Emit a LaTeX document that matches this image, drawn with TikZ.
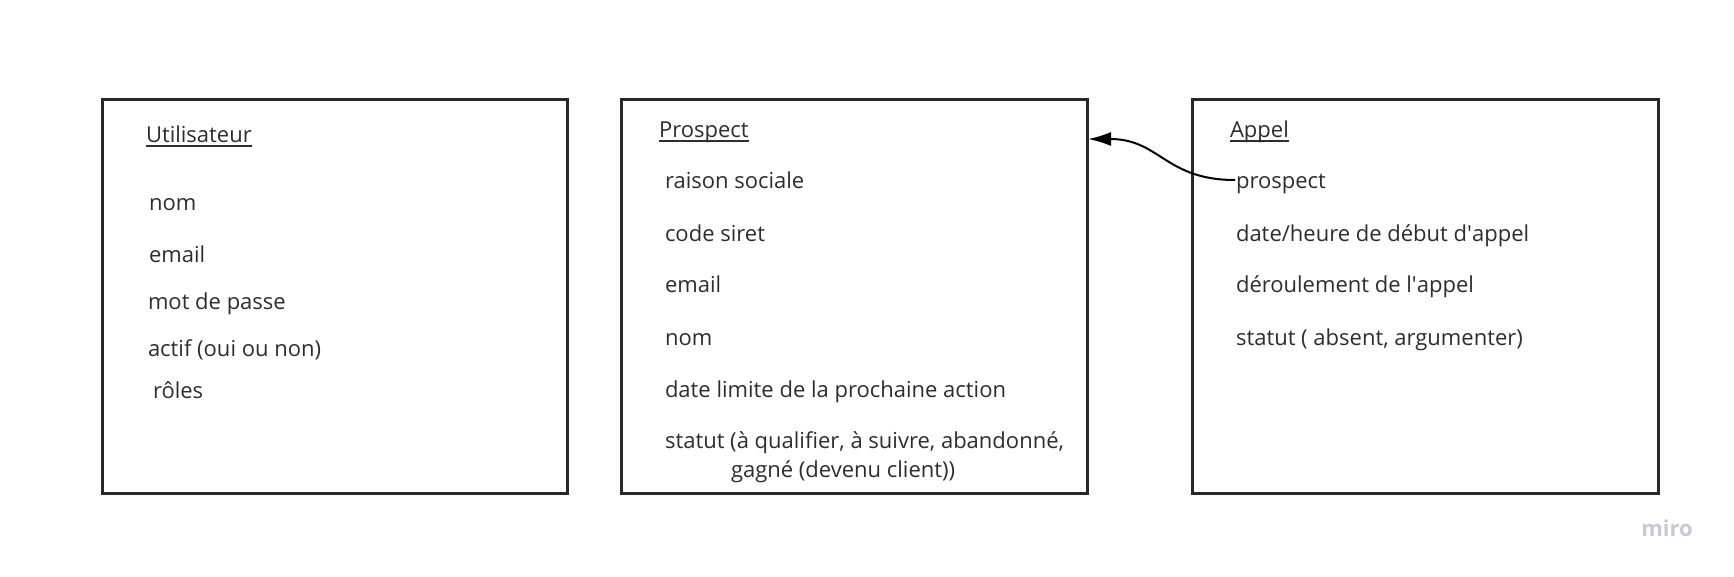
\documentclass[tikz,border=0pt]{standalone}
\usepackage{fontspec}
\setmainfont{Open Sans}
\usetikzlibrary{arrows.meta}
\definecolor{txt}{RGB}{45,45,45}
\definecolor{boxline}{RGB}{40,40,40}
\definecolor{wm}{RGB}{200,200,214}
\tikzset{
  entity/.style={draw=boxline, line width=3pt, inner sep=0pt, outer sep=0pt, anchor=north west, minimum width=465pt, minimum height=394pt},
  field/.style={anchor=base west, inner sep=0pt, outer sep=0pt, text=txt, font=\fontsize{22}{30}\selectfont},
  uline/.style={draw=txt, line width=1.5pt},
  conn/.style={draw=black, line width=2pt, -{Latex[length=23pt,width=14pt]}}
}
\begin{document}
\begin{tikzpicture}[x=1pt,y=-1pt]
\useasboundingbox (0,0) rectangle (1734,576);
% boxes
\node[entity] (user) at (102,99) {};
\node[entity, minimum width=466pt] (prosp) at (621,99) {};
\node[entity, minimum width=466pt] (appel) at (1192,99) {};
% Utilisateur
\node[field] (ut) at (146,142) {Utilisateur};
\draw[uline] ([yshift=-4pt]ut.base west) -- ([yshift=-4pt]ut.base east);
\node[field] (u1) at (149,210) {nom};
\node[field] (u2) at (149,262) {email};
\node[field] (u3) at (148,309) {mot de passe};
\node[field] (u4) at (148,356) {actif (oui ou non)};
\node[field] (u5) at (153,398) {rôles};
% Prospect
\node[field] (pt) at (659,137) {Prospect};
\draw[uline] ([yshift=-4pt]pt.base west) -- ([yshift=-4pt]pt.base east);
\node[field] (p1) at (665,188) {raison sociale};
\node[field] (p2) at (665,241) {code siret};
\node[field] (p3) at (665,292) {email};
\node[field] (p4) at (665,345) {nom};
\node[field] (p5) at (665,397) {date limite de la prochaine action};
\node[field] (p6) at (665,448) {statut (à qualifier, à suivre, abandonné,};
\node[field] (p7) at (731,477) {gagné (devenu client))};
% Appel
\node[field] (at) at (1230,137) {Appel};
\draw[uline] ([yshift=-4pt]at.base west) -- ([yshift=-4pt]at.base east);
\node[field] (a1) at (1236,188) {prospect};
\node[field] (a2) at (1236,241) {date/heure de début d\textquotesingle appel};
\node[field] (a3) at (1236,292) {déroulement de l\textquotesingle appel};
\node[field] (a4) at (1236,345) {statut ( absent, argumenter)};
% connector
\coordinate (tip) at (1088,139);
\draw[conn] ([shift={(-1pt,8pt)}]a1.base west) .. controls (1165,180) and (1160,139) .. (tip);
% watermark
\node[text=wm, font=\fontsize{22}{24}\selectfont\bfseries, inner sep=0pt] (miro) at (1667,528) {miro};
\end{tikzpicture}
\end{document}
